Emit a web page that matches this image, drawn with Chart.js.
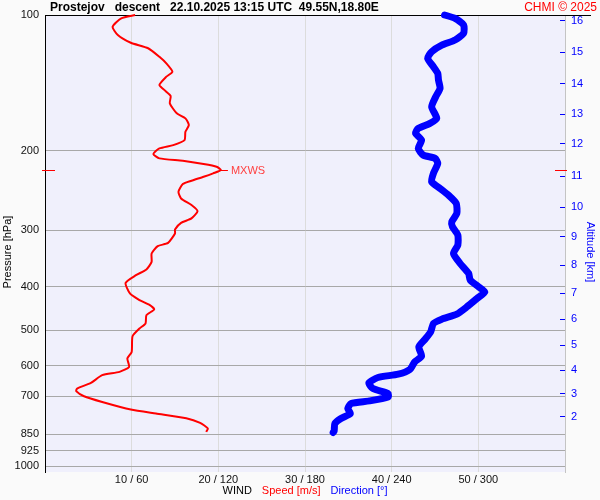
<!DOCTYPE html>
<html>
<head>
<meta charset="utf-8">
<script src="https://cdn.jsdelivr.net/npm/chart.js@4/dist/chart.umd.min.js"></script>
<style>
  html, body { margin: 0; padding: 0; background: #fafafa; }
  #wrap { width: 600px; height: 500px; }
</style>
</head>
<body>
<div id="wrap"><canvas id="chart" width="600" height="500"></canvas></div>
<script>
'use strict';

// --- Data -----------------------------------------------------------------

const TITLE = 'Prostejov   descent   22.10.2025 13:15 UTC  49.55N,18.80E';
const CREDIT = 'CHMI \u00a9 2025';

const PRESSURE_TICKS = [100, 200, 300, 400, 500, 600, 700, 850, 925, 1000];
const SPEED_TICKS = [10, 20, 30, 40, 50];
const DIR_TICKS = [60, 120, 180, 240, 300];

const ALT_KM = [2, 3, 4, 5, 6, 7, 8, 9, 10, 11, 12, 13, 14, 15, 16];
const ALT_HPA = [778, 691, 613, 540, 473, 414, 359, 310, 267, 228, 193, 166, 142, 121, 103];

// vento maximo
const MXWS_HPA = 221;
const MXWS_MS = 20.3;

// velocidade (m/s) por nivel de pressao (hPa)
const SPEED_HPA = [100, 101.7, 106.2, 110.8, 115.2, 118.5, 123.8, 128.0, 133.6, 137.0,
  143.0, 147.4, 151.2, 157.0, 165.2, 169.5, 175.4, 181.5, 189.4, 194.3,
  197.6, 203.4, 207.9, 210.5, 214.0, 217.0, 220.7, 224.4, 228.4, 233.1,
  237.1, 246.6, 255.1, 263.9, 272.2, 282.5, 288.9, 298.8, 305.0, 320.0,
  325.5, 337.9, 352.7, 366.6, 377.4, 392.6, 414.4, 428.8, 439.9, 449.7,
  463.0, 483.1, 495.6, 515.5, 558.5, 577.6, 602.9, 618.4, 628.9, 654.2,
  673.2, 682.5, 700.2, 720.9, 749.4, 764.9, 783.4, 802.4, 825.7, 840.1];
const SPEED_MS = [10.4, 8.8, 7.8, 8.4, 9.9, 11.9, 13.2, 14.0, 14.7, 14.0,
  13.2, 13.9, 14.5, 14.4, 15.2, 16.2, 16.6, 16.2, 16.1, 14.8,
  13.2, 12.5, 13.2, 15.9, 18.3, 19.8, 20.3, 19.4, 18.3, 16.9,
  15.9, 15.4, 15.7, 16.9, 17.6, 16.9, 15.7, 15.0, 15.0, 14.2,
  13.0, 12.3, 12.3, 11.7, 10.5, 9.3, 9.8, 10.9, 12.1, 12.6,
  11.7, 11.6, 10.9, 10.1, 10.0, 9.5, 9.7, 8.6, 6.6, 5.3,
  3.7, 3.6, 4.5, 6.6, 9.9, 12.8, 16.3, 17.9, 18.8, 18.6];

// direcao (graus) por nivel de pressao (hPa)
const DIR_HPA = [100, 101.7, 105.2, 109.8, 113.6, 116.6, 120.6, 124.8, 130.2, 134.7,
  139.4, 145.4, 151.8, 159.8, 169.5, 173.9, 178.4, 183.0, 189.4, 197.6,
  204.5, 207.9, 213.3, 224.4, 234.3, 242.4, 250.8, 261.6, 275.4, 287.5,
  294.9, 307.6, 323.8, 337.9, 355.6, 374.1, 387.3, 400.8, 411.1, 425.1,
  443.7, 460.6, 472.5, 483.1, 504.1, 524.1, 544.3, 570.8, 587.6, 610.8,
  625.7, 636.4, 654.2, 673.2, 690.6, 702.7, 717.2, 726.8, 745.6, 764.9,
  784.6, 804.9, 835.8, 842.6];
const DIR_DEG = [276.6, 283.9, 289.8, 289.8, 283.9, 274.7, 267.7, 264.9, 268.9, 271.9,
  272.4, 273.5, 270.5, 267.7, 271.2, 266.5, 258.4, 256.5, 260.7, 258.4,
  261.9, 270.0, 271.9, 268.9, 267.7, 273.5, 279.3, 284.7, 285.1, 281.6,
  282.1, 285.8, 285.8, 282.8, 287.4, 293.3, 294.4, 300.3, 304.5, 299.1,
  292.1, 285.1, 274.7, 268.9, 267.0, 263.0, 258.8, 260.7, 256.0, 252.6,
  244.5, 230.5, 224.2, 227.0, 237.5, 237.5, 224.6, 211.9, 209.6, 211.4,
  204.9, 200.7, 200.2, 199.5];

// --- Style ----------------------------------------------------------------

const FONT = 'Arial, "Liberation Sans", sans-serif';
const RED = '#ff0000';
const BLUE = '#0000ff';
const PLOT_BG = '#f0f0fc';
const PAGE_BG = '#fafafa';

Chart.defaults.font.family = FONT;
Chart.defaults.font.size = 11;
Chart.defaults.color = '#222';

// --- Plugins --------------------------------------------------------------

const backgroundPlugin = {
  id: 'bg',
  beforeDraw(chart) {
    const { ctx, chartArea: a } = chart;
    ctx.save();
    ctx.fillStyle = PAGE_BG;
    ctx.fillRect(0, 0, chart.width, chart.height);
    ctx.fillStyle = PLOT_BG;
    ctx.fillRect(a.left, a.top, a.right - a.left, a.bottom - a.top);
    ctx.restore();
  },
  beforeDatasetsDraw(chart) {
    // linha preta superior (100 hPa), passa da area do grafico
    const { ctx, chartArea: a } = chart;
    ctx.save();
    ctx.strokeStyle = '#000';
    ctx.lineWidth = 1;
    ctx.beginPath();
    ctx.moveTo(a.left, a.top + 0.5);
    ctx.lineTo(591, a.top + 0.5);
    ctx.stroke();
    ctx.restore();
  },
};

const textPlugin = {
  id: 'texts',
  afterDraw(chart) {
    const { ctx, chartArea: a, scales } = chart;
    ctx.save();

    // titulo
    ctx.textBaseline = 'middle';
    ctx.font = 'bold 12px ' + FONT;
    ctx.fillStyle = '#000';
    ctx.textAlign = 'left';
    ctx.fillText(TITLE, 50, 8);
    ctx.font = '12px ' + FONT;
    ctx.fillStyle = RED;
    ctx.textAlign = 'right';
    ctx.fillText(CREDIT, 597, 8);

    // titulos dos eixos verticais
    ctx.font = '11px ' + FONT;
    ctx.textAlign = 'center';
    ctx.save();
    ctx.translate(8, 252);
    ctx.rotate(-Math.PI / 2);
    ctx.fillStyle = '#000';
    ctx.fillText('Pressure [hPa]', 0, 0);
    ctx.restore();
    ctx.save();
    ctx.translate(590, 252);
    ctx.rotate(Math.PI / 2);
    ctx.fillStyle = BLUE;
    ctx.fillText('Altitude [km]', 0, 0);
    ctx.restore();

    // legenda do eixo x: WIND  Speed [m/s]  Direction [°]
    const parts = [['WIND', '#000'], ['Speed [m/s]', RED], ['Direction [\u00b0]', BLUE]];
    const gap = 10;
    const widths = parts.map((p) => ctx.measureText(p[0]).width);
    let x = (a.left + a.right) / 2 - (widths.reduce((s, w) => s + w, 0) + gap * 2) / 2;
    ctx.textAlign = 'left';
    parts.forEach((p, i) => {
      ctx.fillStyle = p[1];
      ctx.fillText(p[0], x, 491);
      x += widths[i] + gap;
    });

    // marcador MXWS
    const yPx = Math.round(scales.y.getPixelForValue(MXWS_HPA)) + 0.5;
    const xPx = scales.x.getPixelForValue(MXWS_MS);
    ctx.strokeStyle = RED;
    ctx.lineWidth = 1;
    ctx.beginPath();
    ctx.moveTo(a.left - 3, yPx); ctx.lineTo(a.left + 10, yPx);
    ctx.moveTo(a.right - 10, yPx); ctx.lineTo(a.right + 2, yPx);
    ctx.moveTo(xPx, yPx); ctx.lineTo(xPx + 7, yPx);
    ctx.stroke();
    ctx.fillStyle = '#ff4040';
    ctx.fillText('MXWS', xPx + 10, yPx);

    ctx.restore();
  },
};

// --- Chart ----------------------------------------------------------------

function toPoints(xs, ys) {
  return xs.map((v, i) => ({ x: v, y: ys[i] }));
}

// eixos verticais com largura fixa e sem folga extra em cima/baixo
function fixWidth(w) {
  return (s) => {
    s.width = w;
    s.paddingTop = 0;
    s.paddingBottom = 0;
  };
}

const ctx = document.getElementById('chart').getContext('2d');
new Chart(ctx, {
  type: 'scatter',
  data: {
    datasets: [
      {
        label: 'Direction',
        data: toPoints(DIR_DEG, DIR_HPA),
        xAxisID: 'xDir',
        yAxisID: 'y',
        showLine: true,
        borderColor: BLUE,
        borderWidth: 7,
        borderCapStyle: 'round',
        borderJoinStyle: 'round',
        pointRadius: 0,
        tension: 0.2,
        clip: 10,
      },
      {
        label: 'Speed',
        data: toPoints(SPEED_MS, SPEED_HPA),
        xAxisID: 'x',
        yAxisID: 'y',
        showLine: true,
        borderColor: RED,
        borderWidth: 2,
        borderJoinStyle: 'round',
        pointRadius: 0,
        tension: 0.2,
        clip: 10,
      },
    ],
  },
  options: {
    responsive: false,
    animation: false,
    events: [],
    layout: { padding: { top: 15, left: 0, right: 0, bottom: 0 } },
    plugins: { legend: { display: false }, tooltip: { enabled: false } },
    scales: {
      x: {
        type: 'linear',
        position: 'bottom',
        min: 0,
        max: 60,
        afterBuildTicks: (s) => { s.ticks = [0, 10, 20, 30, 40, 50, 60].map((v) => ({ value: v })); },
        afterFit: (s) => { s.height = 28; s.paddingLeft = 0; s.paddingRight = 0; },
        ticks: {
          autoSkip: false,
          maxRotation: 0,
          padding: 1,
          color: '#111',
          callback: (v) => {
            const i = SPEED_TICKS.indexOf(v);
            return i < 0 ? '' : `${SPEED_TICKS[i]} / ${DIR_TICKS[i]}`;
          },
        },
        grid: {
          drawTicks: false,
          color: (c) => (c.tick && c.tick.value === 60 ? '#c4c4c4' : '#dcdcdc'),
        },
        border: { display: false },
      },
      xDir: {
        type: 'linear',
        display: false,
        min: 0,
        max: 360,
      },
      y: {
        type: 'logarithmic',
        position: 'left',
        reverse: true,
        min: 100,
        max: 1031,
        afterBuildTicks: (s) => { s.ticks = PRESSURE_TICKS.map((v) => ({ value: v })); },
        afterFit: fixWidth(45),
        ticks: {
          autoSkip: false,
          padding: 6,
          color: '#111',
          callback: (v) => String(v),
        },
        grid: {
          drawTicks: false,
          color: (c) => (c.tick && c.tick.value === 100 ? 'rgba(0,0,0,0)' : '#a8a8a8'),
        },
        border: { display: true, color: '#000', width: 1 },
      },
      y2: {
        type: 'logarithmic',
        position: 'right',
        reverse: true,
        min: 100,
        max: 1031,
        afterBuildTicks: (s) => { s.ticks = ALT_HPA.map((v) => ({ value: v })); },
        afterFit: fixWidth(35),
        ticks: {
          autoSkip: false,
          padding: 11,
          color: BLUE,
          callback: (v, i) => String(ALT_KM[i]),
        },
        grid: {
          drawOnChartArea: false,
          drawTicks: true,
          tickLength: -5,
          tickColor: BLUE,
          tickWidth: 1,
        },
        border: { display: true, color: '#c4c4c4', width: 1 },
      },
    },
  },
  plugins: [backgroundPlugin, textPlugin],
});
</script>
</body>
</html>
